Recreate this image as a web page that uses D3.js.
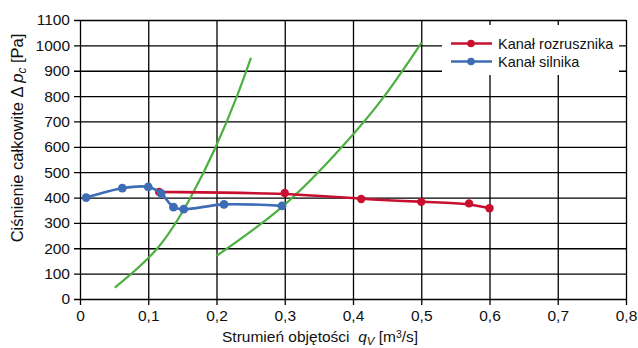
<!DOCTYPE html>
<html>
<head>
<meta charset="utf-8">
<script src="https://cdn.jsdelivr.net/npm/d3@7"></script>
<style>
  html, body { margin: 0; padding: 0; background: #fff; }
  svg { display: block; font-family: "Liberation Sans", Arial, Helvetica, sans-serif; }
</style>
</head>
<body>
<svg id="chart" width="638" height="348"></svg>
<script>
// Measured characteristics: flow rate q_V [m3/s] vs total pressure Δp_c [Pa]
const starterChannel = [ // Kanał rozrusznika
  [0.116, 422], [0.300, 418], [0.412, 394], [0.500, 383], [0.570, 377], [0.600, 358]
];
const engineChannel = [ // Kanał silnika
  [0.009, 400], [0.062, 437], [0.100, 442], [0.119, 416], [0.137, 362],
  [0.152, 354], [0.211, 373], [0.296, 367]
];
// System resistance curves
const systemCurveA = [
  [0.051, 45], [0.1135, 200], [0.162, 400], [0.199, 600], [0.230, 800], [0.2505, 951]
];
const systemCurveB = [
  [0.200, 170], [0.297, 365], [0.384, 600], [0.446, 800], [0.5005, 1011]
];
const xTicks = [0, 0.1, 0.2, 0.3, 0.4, 0.5, 0.6, 0.7, 0.8];
const xTickLabels = ["0", "0,1", "0,2", "0,3", "0,4", "0,5", "0,6", "0,7", "0,8"];
const yTicks = [0, 100, 200, 300, 400, 500, 600, 700, 800, 900, 1000, 1100];
const legendItems = ["Kanał rozrusznika", "Kanał silnika"];

const RED = "#c8102e", BLUE = "#3e6db5", GREEN = "#4cb040";

const svg = d3.select("#chart");
const margin = { left: 80, right: 12, top: 20, bottom: 49 };
const W = 638, H = 348;

const x = d3.scaleLinear().domain([0, 0.8]).range([margin.left, W - margin.right]);
const y = d3.scaleLinear().domain([0, 1100]).range([H - margin.bottom, margin.top]);

// Horizontal grid with left ticks
const yAxis = d3.axisLeft(y).tickValues(yTicks).tickSize(-(x(0.8) - x(0))).tickSizeOuter(0)
  .tickFormat(d3.format("d"));
const gy = svg.append("g").attr("transform", `translate(${x(0)},0)`).call(yAxis);
gy.select(".domain").remove();
gy.selectAll(".tick line").attr("x1", -6).attr("stroke", "#000").attr("stroke-width", 1.3);
gy.selectAll(".tick text").attr("font-size", 15.5).attr("fill", "#111").attr("x", -10);

// Vertical grid with bottom ticks
const xAxis = d3.axisBottom(x).tickValues(xTicks).tickSizeOuter(0)
  .tickFormat((d, i) => xTickLabels[i]);
const gx = svg.append("g").attr("transform", `translate(0,${y(0)})`).call(xAxis);
gx.select(".domain").remove();
gx.selectAll(".tick line").attr("y1", -(y(0) - y(1100))).attr("y2", 6)
  .attr("stroke", "#000").attr("stroke-width", 1.3);
gx.selectAll(".tick text").attr("font-size", 15.5).attr("fill", "#111").attr("y", 11);

// Legend background covering the grid
svg.append("rect").attr("x", 442).attr("y", 25).attr("width", 177).attr("height", 50).attr("fill", "#fff");

const line = d3.line().x(d => x(d[0])).y(d => y(d[1]));

// System curves
[systemCurveA, systemCurveB].forEach(s => {
  svg.append("path").datum(s)
    .attr("d", line.curve(d3.curveNatural))
    .attr("fill", "none").attr("stroke", GREEN).attr("stroke-width", 2.2);
});

// Starter channel: smooth trend line and measured points
svg.append("path").datum(starterChannel)
  .attr("d", line.curve(d3.curveBasis))
  .attr("fill", "none").attr("stroke", RED).attr("stroke-width", 2.6);
svg.append("g").selectAll("circle").data(starterChannel).join("circle")
  .attr("cx", d => x(d[0])).attr("cy", d => y(d[1])).attr("r", 4.2).attr("fill", RED);

// Engine channel
svg.append("path").datum(engineChannel)
  .attr("d", line.curve(d3.curveCatmullRom.alpha(0.5)))
  .attr("fill", "none").attr("stroke", BLUE).attr("stroke-width", 2.6);
svg.append("g").selectAll("circle").data(engineChannel).join("circle")
  .attr("cx", d => x(d[0])).attr("cy", d => y(d[1])).attr("r", 4.4).attr("fill", BLUE);

// Legend
const lg = svg.append("g");
legendItems.forEach((name, i) => {
  const c = i === 0 ? RED : BLUE;
  const ly = 43.5 + i * 18;
  lg.append("line").attr("x1", 451).attr("x2", 492).attr("y1", ly).attr("y2", ly)
    .attr("stroke", c).attr("stroke-width", 2.4);
  lg.append("circle").attr("cx", 471).attr("cy", ly).attr("r", 3.8).attr("fill", c);
  lg.append("text").attr("x", 498).attr("y", ly + 5).attr("font-size", 14.5)
    .attr("fill", "#111").text(name);
});

// Axis titles
const xt = svg.append("text").attr("x", 222).attr("y", 342).attr("font-size", 15.5)
  .attr("fill", "#111");
xt.append("tspan").text("Strumień objętości\u00a0\u00a0");
xt.append("tspan").attr("font-style", "italic").text("q");
xt.append("tspan").attr("font-style", "italic").attr("font-size", 11.5).attr("dy", 3).text("V");
xt.append("tspan").attr("dy", -3).text("\u00a0[m");
xt.append("tspan").attr("font-size", 10.5).attr("dy", -4).text("3");
xt.append("tspan").attr("dy", 4).text("/s]");

const yt = svg.append("text").attr("transform", "translate(23,138) rotate(-90)")
  .attr("text-anchor", "middle").attr("font-size", 16.5).attr("fill", "#111");
yt.append("tspan").text("Ciśnienie całkowite Δ ");
yt.append("tspan").attr("font-style", "italic").text("p");
yt.append("tspan").attr("font-style", "italic").attr("font-size", 12).attr("dy", 3).text("c");
yt.append("tspan").attr("dy", -3).text(" [Pa]");
</script>
</body>
</html>
